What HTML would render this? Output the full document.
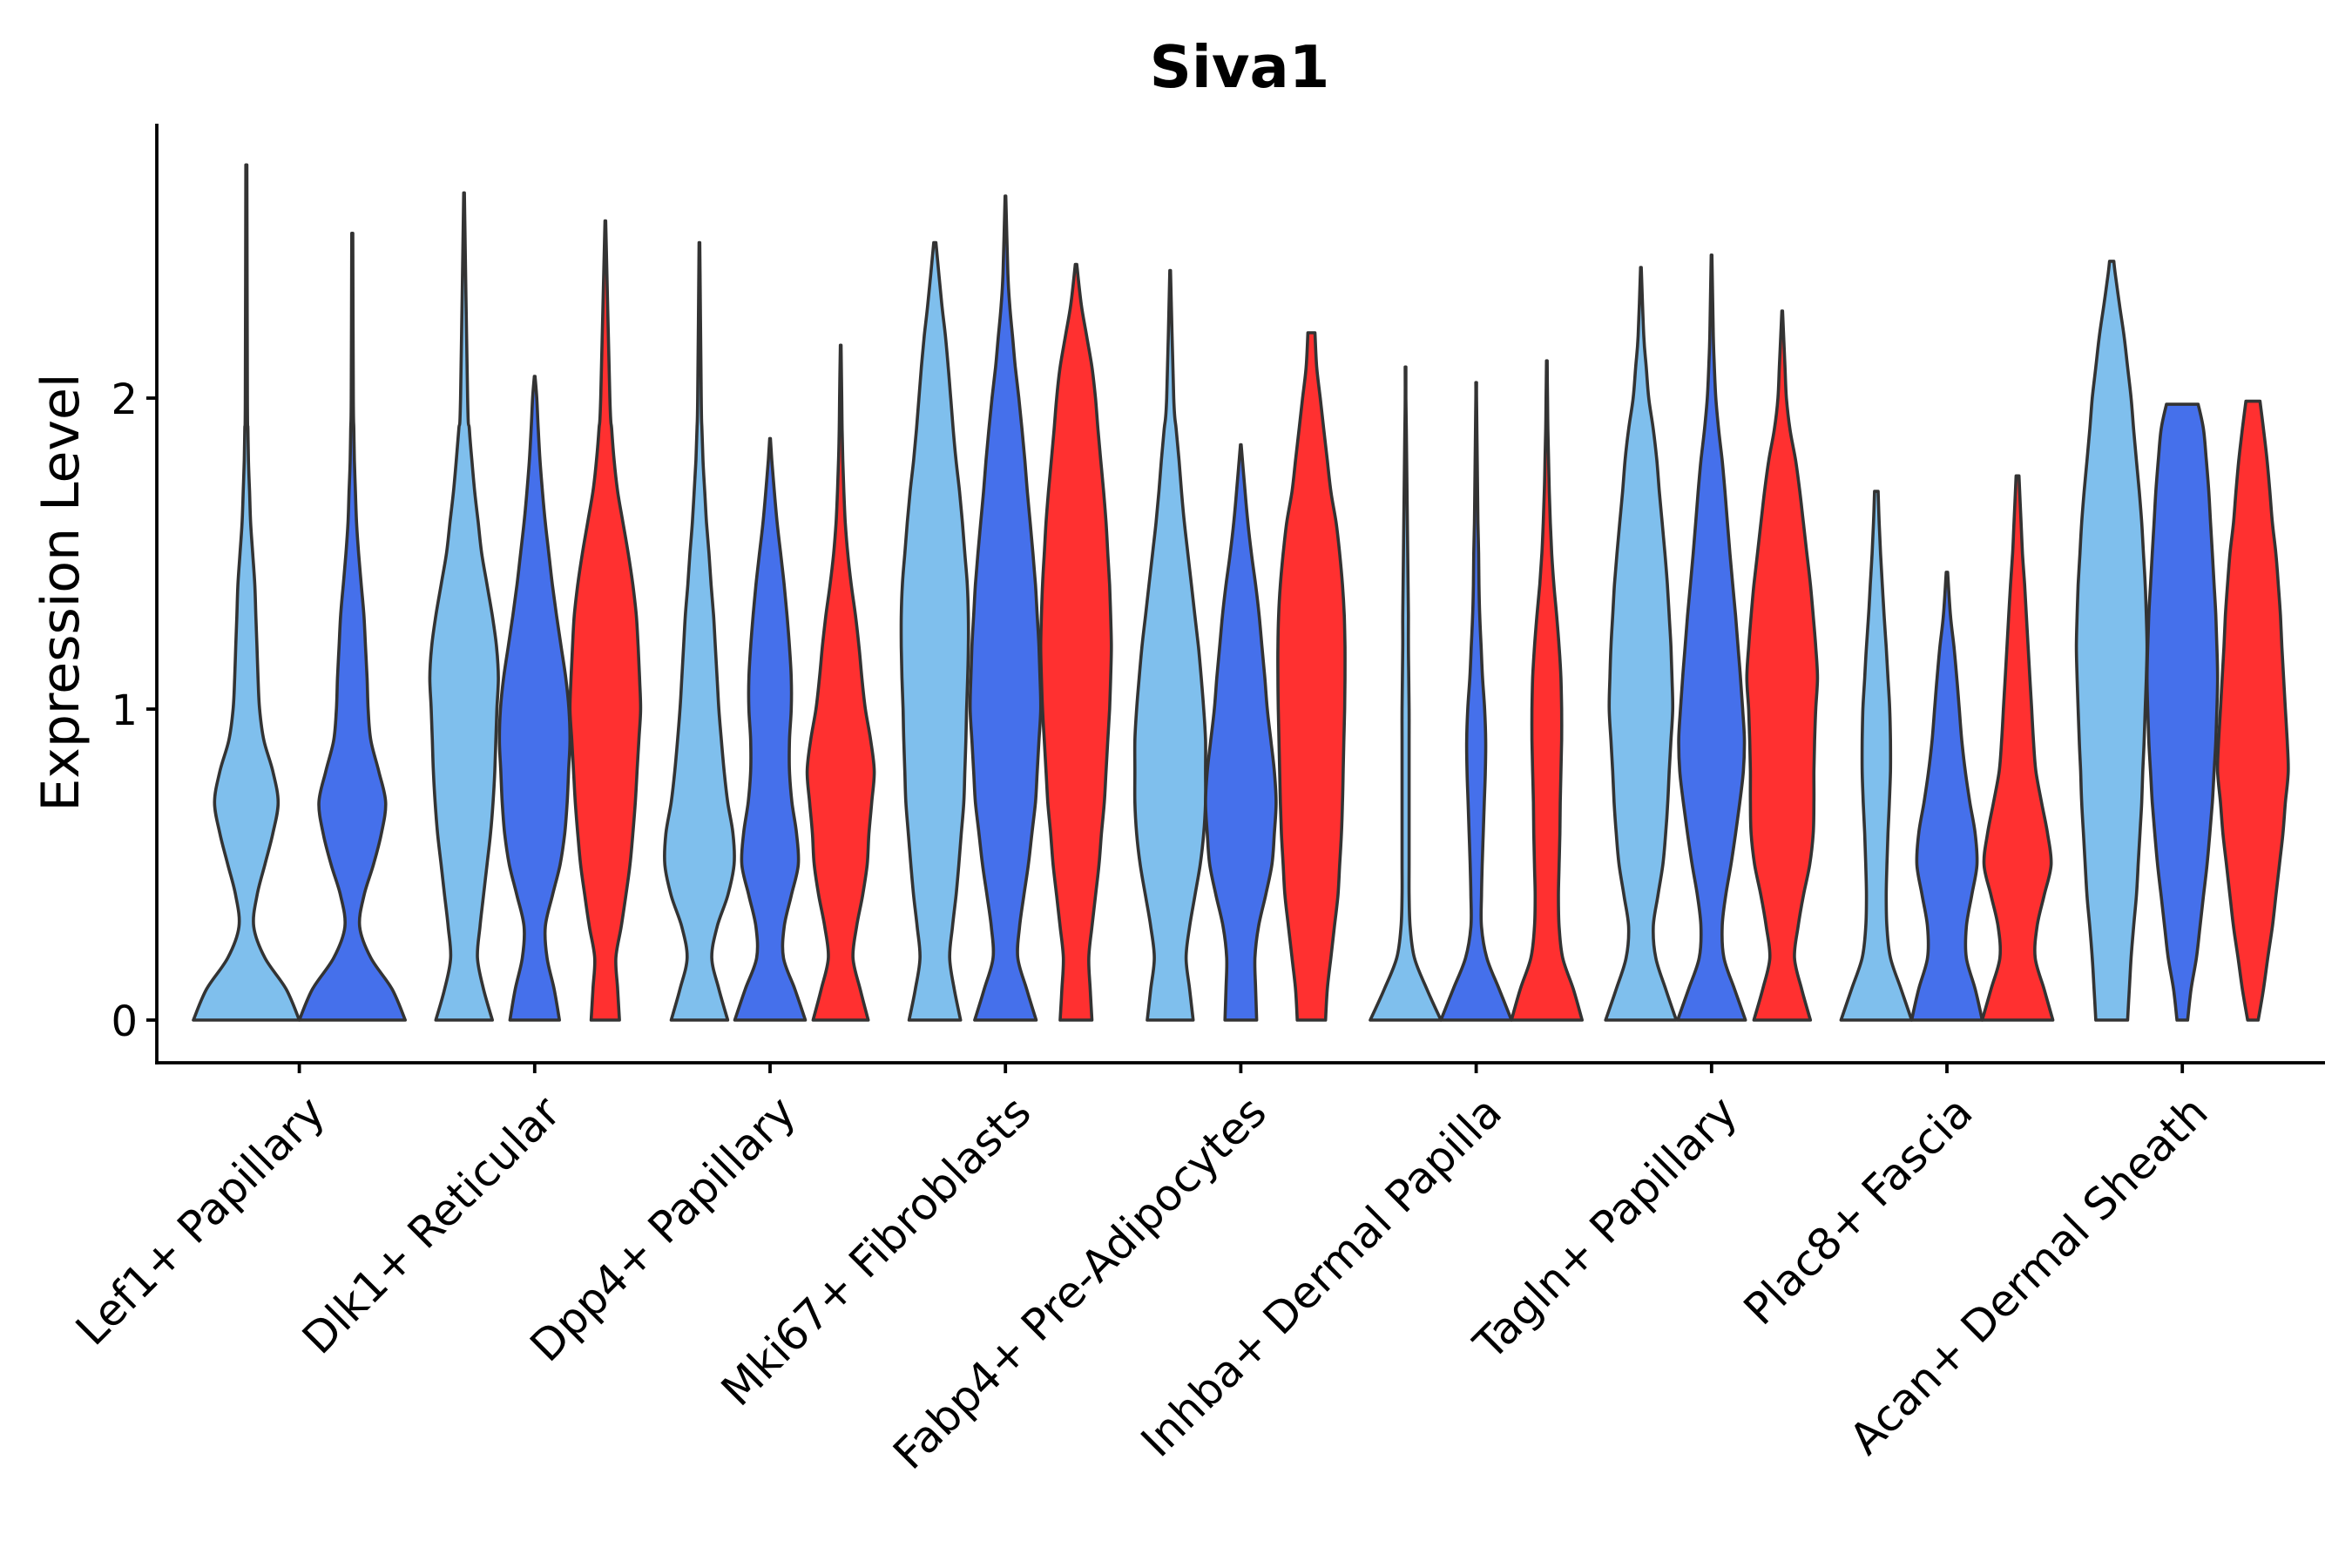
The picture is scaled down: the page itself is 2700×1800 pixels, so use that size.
<!DOCTYPE html>
<html><head><meta charset="utf-8"><style>
html,body{margin:0;padding:0;background:#fff;}
svg{display:block;}
text{font-family:"DejaVu Sans","Liberation Sans",sans-serif;}
</style></head><body>
<svg id="chart" width="2700" height="1800" viewBox="0 0 2700 1800" xmlns="http://www.w3.org/2000/svg">
<text x="1423" y="100" font-size="67" font-weight="bold" text-anchor="middle">Siva1</text>
<text transform="translate(90,680) rotate(-90)" font-size="60" text-anchor="middle">Expression Level</text>
<g id="violins"></g>
<g id="axes"></g>
</svg>
<script>
// ---- data ----
const categories = ["Lef1+ Papillary","Dlk1+ Reticular","Dpp4+ Papillary","Mki67+ Fibroblasts","Fabp4+ Pre-Adipocytes","Inhba+ Dermal Papilla","Tagln+ Papillary","Plac8+ Fascia","Acan+ Dermal Sheath"];
const groupColors = ["#7FBFED","#4570EB","#FF3030"];
const yTicks = [0,1,2];
const yTickLabels = ["0","1","2"];
// group index present per category
const groupsPresent = [[0,1],[0,1,2],[0,1,2],[0,1,2],[0,1,2],[0,1,2],[0,1,2],[0,1,2],[0,1,2]];
// max expression of each violin (same order as groupsPresent flattened)
const maxValues = [2.75,2.53, 2.66,2.07,2.57, 2.50,1.87,2.17, 2.50,2.65,2.43, 2.41,1.85,2.21, 2.10,2.05,2.12, 2.42,2.46,2.28, 1.70,1.44,1.75, 2.44,1.98,1.99];
// relative width at top of each violin
const topWidths = [.01,.01, .01,.01,.01, .01,.01,.01, .03,.01,.02, .01,.01,.1, .01,.01,.01, .01,.01,.01, .05,.02,.04, .06,.45,.2];
// relative density widths sampled at expression 0,0.1,0.2,...
const densities = [
[1,.75,.35,.14,.2,.35,.5,.6,.5,.33,.25,.22,.2,.18,.16,.12,.08,.06,.04,.03,.02],
[1,.75,.35,.14,.22,.4,.55,.63,.5,.35,.3,.28,.25,.22,.17,.12,.08,.06,.04,.03,.02],
[.8,.55,.38,.45,.55,.65,.75,.82,.87,.9,.93,.97,.92,.8,.65,.5,.4,.3,.22,.15,.1],
[.7,.55,.35,.3,.5,.72,.85,.92,.96,1,.97,.88,.75,.62,.5,.4,.3,.22,.15,.1,.06],
[.4,.35,.3,.45,.58,.7,.78,.85,.9,.95,1,.97,.93,.88,.78,.65,.5,.35,.25,.18,.13],
[.8,.55,.35,.5,.8,.98,.95,.8,.7,.62,.55,.5,.45,.4,.33,.27,.2,.15,.1,.07,.05],
[1,.7,.38,.4,.6,.8,.75,.62,.55,.55,.6,.6,.55,.48,.4,.3,.2,.12,.05],
[.78,.55,.35,.45,.62,.75,.8,.88,.95,.85,.7,.6,.52,.42,.3,.2,.13,.09,.06,.04,.03],
[.73,.55,.42,.5,.6,.68,.75,.82,.85,.88,.9,.93,.95,.95,.92,.85,.78,.7,.6,.52,.45,.38,.3,.2],
[.87,.6,.35,.4,.52,.65,.75,.85,.9,.95,1,.98,.95,.9,.85,.78,.7,.62,.55,.47,.38,.28,.2,.12,.07],
[.45,.4,.36,.45,.55,.65,.72,.8,.85,.9,.95,.98,1,.98,.95,.9,.85,.78,.7,.62,.55,.45,.3,.15],
[.65,.55,.45,.55,.7,.85,.95,1,1,1,.95,.88,.8,.7,.6,.5,.4,.32,.25,.17,.1],
[.45,.42,.4,.5,.7,.88,.95,1,.95,.85,.75,.68,.6,.52,.42,.3,.2,.12],
[.4,.45,.55,.65,.75,.8,.85,.88,.9,.92,.94,.95,.95,.93,.88,.8,.7,.55,.45,.35,.25,.15],
[1,.6,.25,.13,.1,.1,.1,.1,.1,.1,.1,.09,.08,.08,.07,.06,.05,.04,.03,.02,.01],
[1,.65,.3,.15,.15,.17,.2,.23,.26,.27,.24,.18,.14,.1,.08,.07,.05,.04,.03,.02,.01],
[1,.75,.45,.35,.33,.35,.37,.38,.4,.42,.42,.4,.35,.28,.2,.14,.1,.07,.05,.03,.02],
[1,.7,.42,.35,.48,.62,.7,.76,.8,.85,.9,.88,.85,.8,.75,.68,.6,.52,.45,.35,.22,.15,.08],
[.96,.65,.35,.3,.4,.55,.68,.8,.9,.93,.88,.82,.75,.68,.6,.52,.45,.38,.3,.2,.12,.08,.05],
[.8,.55,.35,.45,.6,.78,.88,.9,.9,.92,.95,1,.95,.88,.8,.7,.6,.5,.38,.22,.12,.08],
[1,.7,.4,.3,.28,.3,.33,.37,.4,.4,.38,.33,.28,.22,.17,.12,.08],
[1,.8,.55,.55,.7,.85,.8,.65,.52,.42,.35,.28,.2,.1],
[1,.75,.5,.55,.75,.95,.85,.68,.52,.45,.4,.35,.3,.25,.2,.14,.1],
[.45,.5,.55,.62,.7,.75,.8,.85,.88,.92,.95,.98,1,.98,.95,.9,.85,.78,.7,.62,.55,.45,.35,.22,.1],
[.15,.25,.4,.5,.6,.7,.78,.85,.9,.95,.98,1,.98,.95,.9,.85,.8,.75,.68,.6],
[.15,.3,.42,.55,.65,.75,.85,.92,1,.97,.92,.87,.82,.78,.72,.65,.55,.48,.4,.3]
];
// ---- layout ----
const NS="http://www.w3.org/2000/svg";
const X0=180, X1=2669, Y0=142, YAX=1220;
const catX0=343.6, catStep=270.2;
function xScale(i){return catX0+catStep*i;}
function yScale(v){return 1171-357*v;}
const dodge=catStep*0.9;
const step=0.1;

function curve(Q){
  let d="";
  for(let i=0;i<Q.length-1;i++){
    const p0=Q[Math.max(i-1,0)],p1=Q[i],p2=Q[i+1],p3=Q[Math.min(i+2,Q.length-1)];
    const c1=[p1[0]+(p2[0]-p0[0])/6,p1[1]+(p2[1]-p0[1])/6];
    const c2=[p2[0]-(p3[0]-p1[0])/6,p2[1]-(p3[1]-p1[1])/6];
    d+=` C${c1[0].toFixed(1)},${c1[1].toFixed(1)} ${c2[0].toFixed(1)},${c2[1].toFixed(1)} ${p2[0].toFixed(1)},${p2[1].toFixed(1)}`;
  }
  return d;
}
function buildPath(cx,hw,dens,maxV,topW){
  const pts=[];
  for(let k=0;k<dens.length;k++){const v=k*step; if(v>=maxV-0.02)break; pts.push([v,dens[k]]);}
  pts.push([maxV,topW]);
  const R=pts.map(p=>[cx+p[1]*hw,yScale(p[0])]);
  const L=pts.map(p=>[cx-p[1]*hw,yScale(p[0])]).reverse();
  let d=`M${L[L.length-1][0].toFixed(1)},${L[L.length-1][1].toFixed(1)} L${R[0][0].toFixed(1)},${R[0][1].toFixed(1)}`+curve(R);
  d+=` L${L[0][0].toFixed(1)},${L[0][1].toFixed(1)}`+curve(L);
  return d+" Z";
}

const gV=document.getElementById('violins');
let idx=0;
categories.forEach((cat,ci)=>{
  const gs=groupsPresent[ci];
  const n=gs.length;
  const slot=dodge/n;
  gs.forEach((g,j)=>{
    const cx=xScale(ci)-dodge/2+slot*(j+0.5);
    const p=document.createElementNS(NS,'path');
    p.setAttribute('d',buildPath(cx,slot/2,densities[idx],maxValues[idx],topWidths[idx]));
    p.setAttribute('fill',groupColors[g]);
    p.setAttribute('stroke','#333333');
    p.setAttribute('stroke-width','3.6');
    p.setAttribute('stroke-linejoin','round');
    
    
    gV.appendChild(p);
    idx++;
  });
});

const gA=document.getElementById('axes');
function line(x1,y1,x2,y2,name){
  const l=document.createElementNS(NS,'line');
  l.setAttribute('x1',x1);l.setAttribute('y1',y1);l.setAttribute('x2',x2);l.setAttribute('y2',y2);
  l.setAttribute('stroke','#000');l.setAttribute('stroke-width','3.8');
  
  
  gA.appendChild(l);
}
line(X0,Y0,X0,YAX+1.9,'y-axis-line');
line(X0-1.9,YAX,X1,YAX,'x-axis-line');
yTicks.forEach((v,i)=>{
  line(X0-12,yScale(v),X0,yScale(v),'y-tick');
  const t=document.createElementNS(NS,'text');
  t.setAttribute('x',X0-22);t.setAttribute('y',yScale(v)+18);
  t.setAttribute('font-size','48');t.setAttribute('text-anchor','end');
  t.textContent=yTickLabels[i];
  
  
  gA.appendChild(t);
});
categories.forEach((cat,ci)=>{
  const x=xScale(ci);
  line(x,YAX,x,YAX+12,'x-tick');
  const t=document.createElementNS(NS,'text');
  t.setAttribute('transform',`translate(${x+32},${YAX+60}) rotate(-45)`);
  t.setAttribute('font-size','50');t.setAttribute('text-anchor','end');
  t.textContent=cat;
  
  
  gA.appendChild(t);
});
</script>
</body></html>
